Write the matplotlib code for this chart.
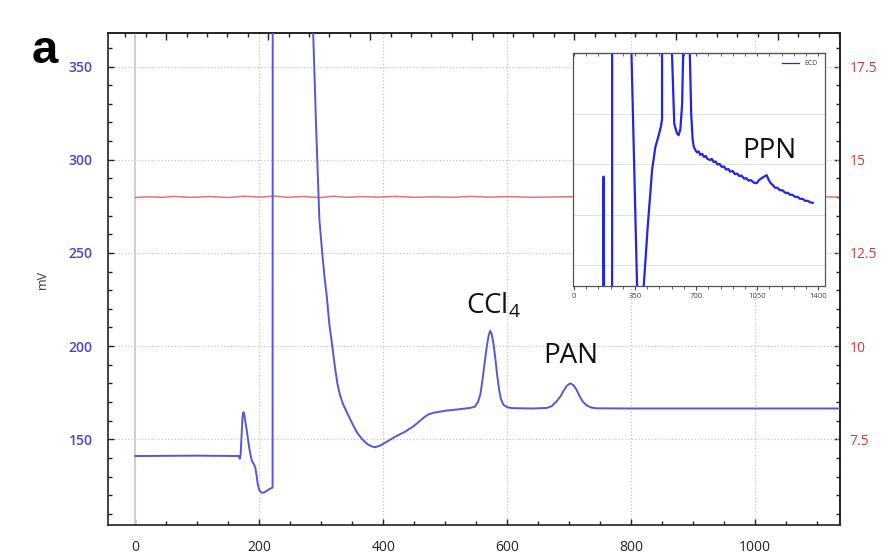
import matplotlib
matplotlib.use("Agg")
import matplotlib.pyplot as plt
from matplotlib.ticker import MultipleLocator, NullFormatter, FuncFormatter, FixedLocator

plt.rcParams['font.family'] = ['Open Sans', 'DejaVu Sans']
plt.rcParams['mathtext.fontset'] = 'custom'
plt.rcParams['mathtext.rm'] = 'Open Sans'
plt.rcParams['mathtext.it'] = 'Open Sans'

# main ECD trace (time, mV)
ecd_t = [0, 100, 167, 168.5, 170, 171.5, 173, 174.5, 176, 178, 180, 182, 185, 188, 191,
         193.5, 195.5, 197.5, 200, 203, 206, 210, 215, 221, 221.5, 222, 283, 287, 292,
         297, 301.6, 305, 309, 313, 318, 322, 326, 330, 335, 342, 350, 358, 366, 374,
         381, 387, 395, 405, 420, 435, 449, 458, 465, 472, 481, 500, 520, 540, 548, 553,
         557, 561, 564, 567, 570, 572.5, 575, 578, 581, 584, 587, 590, 594, 600, 608,
         640, 664, 672, 680, 686, 691, 696, 701.6, 707, 712, 717, 722, 728, 736, 745,
         800, 1140]
ecd_mv = [141, 141.2, 141, 139.5, 142, 152, 162, 164.5, 163, 158.5, 154.5, 149.5, 143,
          138.5, 136.8, 135, 131, 126, 122.8, 121.5, 121.3, 121.8, 123, 124, 124.5, 700,
          420, 368, 315, 268, 250, 238, 226.5, 212, 199.5, 189, 180, 174, 169, 164, 158.5,
          153.5, 150, 147.5, 146.2, 145.7, 146.6, 148.5, 151.5, 154, 157, 159.5, 161.5,
          163.2, 164.2, 165.3, 166, 166.8, 167.5, 170, 174.5, 184, 192, 199.5, 205.5, 208.2,
          206.5, 201, 193, 184, 176.5, 171.5, 168.5, 167.2, 166.7, 166.5, 166.8, 167.8,
          170.5, 173, 176, 178.6, 180, 179, 176.5, 173, 170.2, 168.2, 167.0, 166.6, 166.5,
          166.5]

# second channel (right axis, drawn on the mV scale: right = mV / 20)
red_t = [0, 20, 45, 60, 90, 120, 150, 175, 200, 225, 245, 270, 300, 320, 340, 365, 390,
         420, 450, 480, 510, 540, 570, 600, 640, 700, 760, 820, 880, 940, 1000, 1060, 1140]
red_v = [279.7, 280.1, 279.8, 280.3, 279.8, 280.2, 279.7, 280.4, 279.9, 280.5, 279.8, 280.2,
         279.7, 280.4, 279.8, 280.2, 279.9, 280.3, 279.8, 280.1, 279.8, 280.3, 279.9, 280.2,
         279.8, 280.1, 279.9, 280.2, 279.8, 280.1, 279.9, 280.2, 280.0]
right_ticks = [7.5, 10, 12.5, 15, 17.5]

# inset: full run
ins_t = [0, 160, 168, 170, 172, 174, 218, 219, 220, 325, 330, 362, 385, 400, 423, 448, 467,
         486, 499, 505, 506, 555, 562, 575, 590, 600, 610, 620, 626, 630, 660, 664, 672, 680,
         687, 695, 705, 715, 724, 735, 745, 755, 765, 781, 790, 800, 812, 822, 835, 848, 860,
         872, 885, 895, 910, 922, 935, 948, 960, 975, 988, 1000, 1015, 1030, 1047, 1060, 1075,
         1090, 1104, 1115, 1127, 1140, 1152, 1165, 1180, 1195, 1210, 1225, 1238, 1252, 1265,
         1280, 1295, 1310, 1325, 1340, 1355, 1368]
ins_v = [140, 140, 140, 167.6, 152, 140, 140, 140, 260, 200, 192, 145.9, 135, 145.9, 157.7,
         168.9, 173.5, 175.8, 177.6, 179, 260, 260, 192, 178, 176.2, 175.8, 177, 182, 192, 260,
         260, 192, 180, 175, 173.5, 172.9, 172.4, 172.6, 171.9, 172.1, 171.5, 171.7, 171.1,
         170.9, 171.1, 170.5, 170.6, 170.0, 170.1, 169.5, 169.6, 169.0, 169.1, 168.6, 168.7,
         168.1, 168.2, 167.7, 167.8, 167.2, 167.3, 166.8, 166.9, 166.4, 166.3, 166.9, 167.3,
         167.6, 167.9, 167.0, 166.3, 165.9, 165.4, 165.4, 164.9, 164.9, 164.4, 164.4, 164.0,
         164.0, 163.6, 163.6, 163.2, 163.2, 162.8, 162.8, 162.5, 162.4]

main_blue = '#5656d8'
fig = plt.figure(figsize=(8.89, 5.55), dpi=100)
ax = fig.add_axes([0.1215, 0.0541, 0.8234, 0.8865])

ax.axvline(0, color='#cfcfcf', lw=1.4, zorder=1)
ax.plot(red_t, red_v, color='#e07575', lw=1.1, zorder=2)
ax.plot(ecd_t, ecd_mv, color=main_blue, lw=1.4, zorder=3)

ax.set_xlim(-44, 1137)
ax.set_ylim(104, 368)
ax.xaxis.set_major_locator(MultipleLocator(200))
ax.xaxis.set_minor_locator(MultipleLocator(50))
ax.yaxis.set_major_locator(FixedLocator([150, 200, 250, 300, 350]))
ax.yaxis.set_minor_locator(MultipleLocator(10))
ax.grid(which='major', linestyle=':', color='#c4c4c4', lw=0.9)
ax.set_axisbelow(True)
ax.tick_params(which='both', direction='in', top=False, right=False, colors='#222222')
ax.tick_params(which='major', length=4, width=1)
ax.tick_params(which='minor', length=3, width=1)
ax.tick_params(axis='x', pad=11, labelsize=10, labelcolor='#222222')
ax.tick_params(axis='y', pad=11, labelsize=10, labelcolor='#4646c8')
for lab in ax.get_yticklabels():
    lab.set_fontweight('semibold')
for s in ax.spines.values():
    s.set_color('#222222')
    s.set_linewidth(1.2)
ax.set_ylabel('mV', fontsize=9, color='#333333', labelpad=14)

# right axis
ax_r = ax.secondary_yaxis('right', functions=(lambda v: v / 20, lambda v: v * 20))
ax_r.yaxis.set_major_locator(FixedLocator(right_ticks))
ax_r.yaxis.set_minor_locator(MultipleLocator(0.5))
ax_r.yaxis.set_major_formatter(FuncFormatter(lambda v, p: f'{v:g}'))
ax_r.tick_params(which='both', direction='in', colors='#222222')
ax_r.tick_params(which='major', length=4, width=1)
ax_r.tick_params(which='minor', length=3, width=1)
ax_r.tick_params(axis='y', pad=7, labelsize=10, labelcolor='#d83a3a')
ax_r.spines['right'].set_color('#222222')
ax_r.spines['right'].set_linewidth(1.2)

# top axis (unlabelled ticks)
ax_t = ax.secondary_xaxis('top', functions=(lambda t: (t - 50) / 32.9, lambda u: u * 32.9 + 50))
ax_t.xaxis.set_major_locator(MultipleLocator(5))
ax_t.xaxis.set_minor_locator(MultipleLocator(1))
ax_t.xaxis.set_major_formatter(NullFormatter())
ax_t.tick_params(which='both', direction='in', colors='#222222')
ax_t.tick_params(which='major', length=5, width=1)
ax_t.tick_params(which='minor', length=3, width=1)
ax_t.spines['top'].set_color('#222222')
ax_t.spines['top'].set_linewidth(1.2)

ax.text(533.9, 217.6, r'CCl$_\mathrm{4}$', fontsize=20, color='#111111', va='baseline', ha='left')
ax.text(657.6, 190.7, 'PAN', fontsize=20, color='#111111', va='baseline', ha='left')

# inset
ins = fig.add_axes([0.6445, 0.4847, 0.2835, 0.4198])
ins.set_facecolor('white')
ins.plot(ins_t, ins_v, color='#2424e6', lw=1.6, label='ECD')
ins.set_xlim(-5, 1438)
ins.set_ylim(145.94, 192.08)
ins.xaxis.set_major_locator(MultipleLocator(350))
ins.xaxis.set_minor_locator(MultipleLocator(70))
ins.set_yticks([150, 160, 170, 180])
ins.yaxis.grid(True, color='#e2e2e2', lw=0.8)
ins.tick_params(axis='y', left=False, labelleft=False)
ins.tick_params(axis='x', which='both', direction='out', colors='#444444', labelsize=5.5, pad=2)
ins.tick_params(axis='x', which='major', length=3)
ins.tick_params(axis='x', which='minor', length=2)
for s in ins.spines.values():
    s.set_color('#555555')
    s.set_linewidth(0.9)
ins_top = ins.secondary_xaxis('top')
ins_top.xaxis.set_major_locator(MultipleLocator(350))
ins_top.xaxis.set_minor_locator(MultipleLocator(70))
ins_top.xaxis.set_major_formatter(NullFormatter())
ins_top.tick_params(which='both', direction='in', colors='#555555', length=2)
leg = ins.legend(loc='upper right', frameon=False, fontsize=5, handlelength=2.5,
                 borderaxespad=0.6, labelcolor='#444444')
for ln in leg.get_lines():
    ln.set_linewidth(0.9)
ins.text(962, 171.2, 'PPN', fontsize=20, color='#111111', va='baseline', ha='left')

fig.text(32 / 889, 1 - 63 / 555, 'a', fontsize=34, fontweight='bold',
         family='Liberation Sans', va='baseline', ha='left')

fig.savefig('out.png', dpi=100)
